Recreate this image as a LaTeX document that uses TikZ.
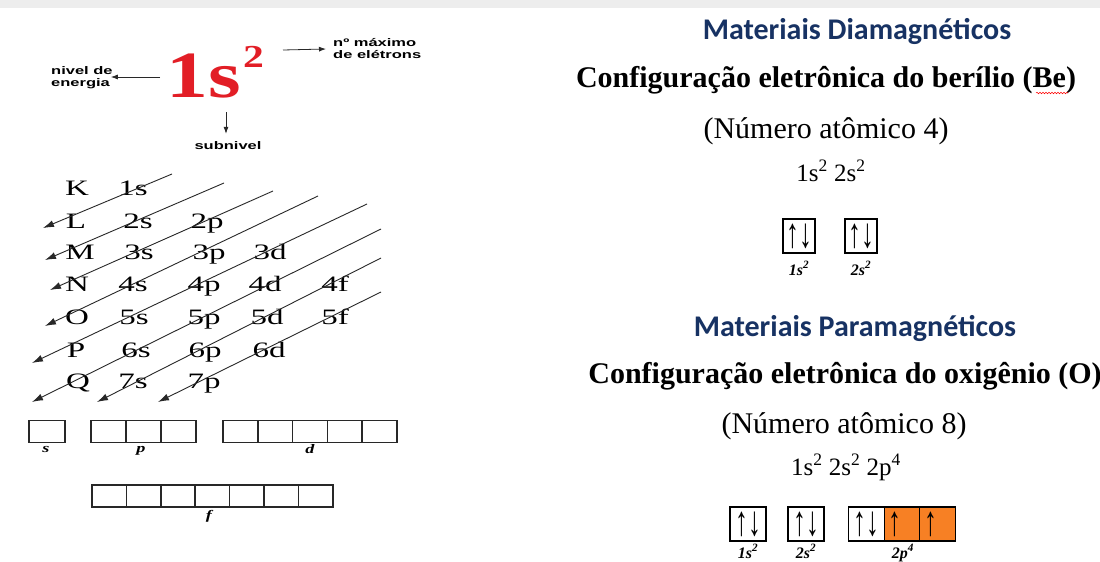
\documentclass[tikz,border=0pt]{standalone}
\usepackage{fontspec}
\usepackage{graphicx}
\setmainfont{Liberation Serif}
\newfontfamily\arialf{Liberation Sans}
\newfontfamily\calib{Carlito}
\usetikzlibrary{arrows.meta,decorations.pathmorphing}
\definecolor{navy}{RGB}{23,50,99}
\definecolor{bigred}{RGB}{226,30,38}
\definecolor{orng}{RGB}{247,128,36}
\definecolor{ink}{RGB}{40,40,40}
\newcommand{\dtx}[1]{\scalebox{1.5}[1]{\fontsize{22}{22}\selectfont #1}}
\newcommand{\sarial}[1]{\scalebox{1.5}[1]{\arialf\bfseries\fontsize{11}{12}\selectfont #1}}
\newcommand{\blbl}[1]{\scalebox{1.4}[1]{\fontsize{13}{13}\selectfont\bfseries\itshape #1}}
\newcommand{\rlbl}[1]{{\fontsize{16}{16}\selectfont\bfseries\itshape #1}}
\newcommand{\spins}[1]{\scalebox{0.95}[1.55]{\fontsize{27}{27}\selectfont #1}}
\begin{document}
\begin{tikzpicture}[x=1pt,y=-1pt,
  txt/.style={inner sep=0pt, anchor=base},
  diag/.style={draw=ink, line width=0.9pt, -{Latex[length=11pt,width=7pt]}},
  sarr/.style={draw=ink, line width=0.8pt, -{Latex[length=7pt,width=5pt]}},
  cellL/.style={draw=ink, line width=1.6pt, inner sep=0pt, minimum height=22pt},
  cellR/.style={draw=black, line width=1.3pt, inner sep=0pt, minimum height=34pt},
  spin/.style={inner sep=0pt},
  head/.style={txt, text=navy, font=\calib\bfseries\fontsize{30}{30}\selectfont},
  cfg/.style={txt, font=\bfseries\fontsize{30}{30}\selectfont},
  num/.style={txt, font=\fontsize{30}{30}\selectfont},
  sup/.style={txt, font=\fontsize{25}{25}\selectfont}
]
\useasboundingbox (0,0) rectangle (1100,562);
\fill[white] (0,0) rectangle (1100,562);
\fill[gray!14] (0,0) rectangle (1100,8);

% ---------- 1s2 legend ----------
\node[txt, anchor=base west, text=bigred] (big1) at (166,97)
  {\scalebox{1.27}[1]{\fontsize{66}{66}\selectfont\bfseries 1s}};
\node[txt, anchor=base west, text=bigred] (big2) at (243,67)
  {\scalebox{1.3}[1]{\fontsize{32}{32}\selectfont\bfseries 2}};
\node[inner sep=0pt, anchor=west, align=left, font=\fontsize{11}{12}\selectfont] (niv) at (51,78)
  {\sarial{nivel de}\\\sarial{energia}};
\node[inner sep=0pt, anchor=west, align=left, font=\fontsize{11}{12}\selectfont] (nmax) at (333,49)
  {\sarial{nº máximo}\\\sarial{de elétrons}};
\node[txt] (subn) at (228,149) {\sarial{subnivel}};
\coordinate (cL) at (160,77);
\coordinate (cR) at (283,50);
\coordinate (cD) at (226,112);
\draw[sarr] (cL) -- ([xshift=-2pt]niv.east |- cL);
\draw[sarr] (cR) -- ([xshift=-7pt]nmax.west);
\draw[sarr] (cD) -- ([yshift=7pt]cD |- subn.north);

% ---------- Aufbau diagram ----------
\node[txt] (K) at (77,195) {\dtx{K}};
\node[txt] (L) at (76,228) {\dtx{L}};
\node[txt] (M) at (80,259) {\dtx{M}};
\node[txt] (N) at (77,291) {\dtx{N}};
\node[txt] (O) at (77,324) {\dtx{O}};
\node[txt] (P) at (76,357) {\dtx{P}};
\node[txt] (Q) at (78,388) {\dtx{Q}};
\node[txt] (s1) at (133,195) {\dtx{1s}};
\node[txt] (s2) at (138,228) {\dtx{2s}};
\node[txt] (s3) at (139,259) {\dtx{3s}};
\node[txt] (s4) at (133,291) {\dtx{4s}};
\node[txt] (s5) at (134,324) {\dtx{5s}};
\node[txt] (s6) at (136,357) {\dtx{6s}};
\node[txt] (s7) at (133,388) {\dtx{7s}};
\node[txt] (p2) at (207,228) {\dtx{2p}};
\node[txt] (p3) at (209,259) {\dtx{3p}};
\node[txt] (p4) at (204,291) {\dtx{4p}};
\node[txt] (p5) at (204,324) {\dtx{5p}};
\node[txt] (p6) at (205,357) {\dtx{6p}};
\node[txt] (p7) at (204,388) {\dtx{7p}};
\node[txt] (d3) at (270,259) {\dtx{3d}};
\node[txt] (d4) at (265,291) {\dtx{4d}};
\node[txt] (d5) at (267,324) {\dtx{5d}};
\node[txt] (d6) at (269,357) {\dtx{6d}};
\node[txt] (f4) at (335,291) {\dtx{4f}};
\node[txt] (f5) at (335,324) {\dtx{5f}};

\coordinate (a1) at (172,174); \coordinate (b1) at (43,228);
\coordinate (a2) at (224,183); \coordinate (b2) at (45,260);
\coordinate (a3) at (273,191); \coordinate (b3) at (50,290);
\coordinate (a4) at (318,196); \coordinate (b4) at (45,326);
\coordinate (a5) at (367,204); \coordinate (b5) at (32,363);
\coordinate (a6) at (381,229); \coordinate (b6) at (32,402);
\coordinate (a7) at (381,258); \coordinate (b7) at (97,402);
\coordinate (a8) at (381,292); \coordinate (b8) at (158,402);
\foreach \i in {1,...,8} \draw[diag] (a\i) -- (b\i);

% ---------- orbital boxes (left) ----------
\node[cellL, minimum width=36pt] (bs) at (47,431.5) {};
\foreach \i/\x in {1/108.5,2/143.5,3/178.5}
  \node[cellL, minimum width=35pt] (bp\i) at (\x,431.5) {};
\foreach \i/\x in {1/240.4,2/275.2,3/310,4/344.8,5/379.6}
  \node[cellL, minimum width=34.8pt] (bd\i) at (\x,431.5) {};
\foreach \i/\x in {1/109.2,2/143.6,3/178,4/212.4,5/246.8,6/281.2,7/315.6}
  \node[cellL, minimum width=34.4pt] (bf\i) at (\x,496) {};
\node[txt] (ls) at (46,452) {\blbl{s}};
\node[txt] (lp) at (141,452) {\blbl{p}};
\node[txt] (ld) at (310,453) {\blbl{d}};
\node[txt] (lf) at (209,519) {\blbl{f}};

% ---------- Diamagnetic ----------
\node[head] (h1) at (857,39) {Materiais Diamagnéticos};
\node[cfg] (c1) at (826,87) {Configuração eletrônica do berílio (Be)};
\draw[red, line width=0.5pt, decorate, decoration={snake, amplitude=0.8pt, segment length=3pt}]
  (1036,93) -- (1068,93);
\node[num] (n1) at (826,138) {(Número atômico 4)};
\node[sup] (e1) at (831,181) {1s\textsuperscript{2} 2s\textsuperscript{2}};
\node[cellR, minimum width=32pt] (be1) at (799,236) {};
\node[cellR, minimum width=32pt] (be2) at (861,236) {};
\node[spin] at (be1) {\spins{↑↓}};
\node[spin] at (be2) {\spins{↑↓}};
\node[txt] (lbe1) at (799,275) {\rlbl{1s\textsuperscript{2}}};
\node[txt] (lbe2) at (861,275) {\rlbl{2s\textsuperscript{2}}};

% ---------- Paramagnetic ----------
\node[head] (h2) at (855,336) {Materiais Paramagnéticos};
\node[cfg] (c2) at (845,383) {Configuração eletrônica do oxigênio (O)};
\node[num] (n2) at (844,433) {(Número atômico 8)};
\node[sup] (e2) at (846,475) {1s\textsuperscript{2} 2s\textsuperscript{2} 2p\textsuperscript{4}};
\node[cellR, minimum width=36pt] (ox1) at (748,524) {};
\node[cellR, minimum width=36pt] (ox2) at (806,524) {};
\node[cellR, minimum width=35.5pt] (ox3) at (866.5,524) {};
\node[cellR, minimum width=35.5pt, fill=orng] (ox4) at (902,524) {};
\node[cellR, minimum width=35.5pt, fill=orng] (ox5) at (937.5,524) {};
\node[spin] at (ox1) {\spins{↑↓}};
\node[spin] at (ox2) {\spins{↑↓}};
\node[spin] at (ox3) {\spins{↑↓}};
\node[spin] at ([xshift=-7pt]ox4.center) {\spins{↑}};
\node[spin] at ([xshift=-7pt]ox5.center) {\spins{↑}};
\node[txt] (lox1) at (748,558) {\rlbl{1s\textsuperscript{2}}};
\node[txt] (lox2) at (806,558) {\rlbl{2s\textsuperscript{2}}};
\node[txt] (lox3) at (903,558) {\rlbl{2p\textsuperscript{4}}};
\end{tikzpicture}
\end{document}
